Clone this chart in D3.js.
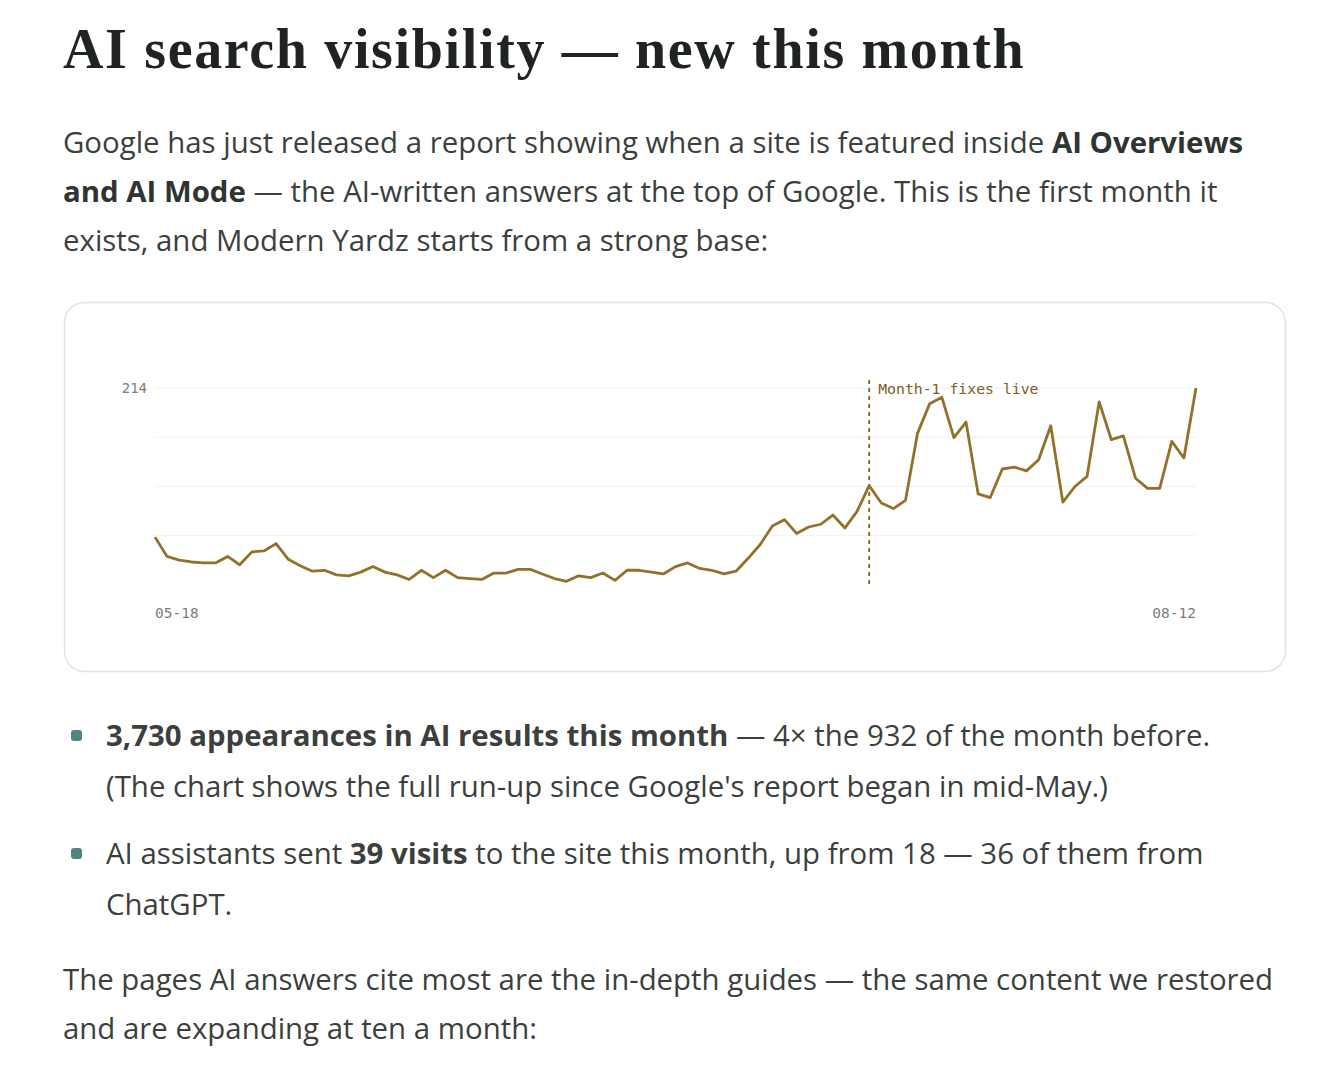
<!DOCTYPE html>
<html>
<head>
<meta charset="utf-8">
<script src="https://cdn.jsdelivr.net/npm/d3@7"></script>
<style>
  body { margin: 0; background: #fff; width: 1342px; height: 1090px; overflow: hidden; position: relative;
         font-family: "Open Sans", "Noto Sans", sans-serif; color: #3b3f3d; }
  h1 { position: absolute; left: 63px; top: 17px; margin: 0; font-family: "Liberation Serif", serif;
       font-weight: bold; font-size: 56px; color: #1f2421; letter-spacing: 1.65px; }
  .p { position: absolute; left: 63px; margin: 0; font-size: 29.4px; line-height: 49px; white-space: nowrap; }
  .p b { color: #2f3431; }
  ul { position: absolute; left: 63px; top: 710px; margin: 0; padding: 0; list-style: none; white-space: nowrap; }
  li { position: relative; padding-left: 43px; font-size: 29.4px; line-height: 51px; margin-bottom: 16px; }
  li::before { content: ""; position: absolute; left: 8px; top: 20px; width: 11px; height: 11px;
               border-radius: 3px; background: #4f8682; }
  svg { position: absolute; left: 0; top: 0; }
</style>
</head>
<body>
<h1>AI search visibility — new this month</h1>
<p class="p" style="top:118px">Google has just released a report showing when a site is featured inside <b>AI Overviews</b><br><b>and AI Mode</b> — the AI-written answers at the top of Google. This is the first month it<br>exists, and Modern Yardz starts from a strong base:</p>
<svg id="chart" width="1342" height="700"></svg>
<ul>
  <li><b>3,730 appearances in AI results this month</b> — 4× the 932 of the month before.<br>(The chart shows the full run-up since Google's report began in mid-May.)</li>
  <li>AI assistants sent <b>39 visits</b> to the site this month, up from 18 — 36 of them from<br>ChatGPT.</li>
</ul>
<p class="p" style="top:955px">The pages AI answers cite most are the in-depth guides — the same content we restored<br>and are expanding at ten a month:</p>
<script>
// daily AI appearances, 05-18 .. 08-12
const values = [
  52, 31, 27, 25, 24, 24, 31, 22, 36, 37, 45, 28, 21, 15, 16, 11, 10, 14, 20, 14,
  11, 6, 16, 8, 16, 8, 7, 6, 13, 13, 17, 17, 12, 7, 4, 10, 8, 13, 5, 16,
  16, 14, 12, 20,
  24, 18, 16, 12, 15, 29, 44, 64, 71, 56, 63, 66, 76, 62, 80, 108, 89, 83, 92, 165,
  197, 204, 160, 177, 99, 95, 126, 128, 124, 136, 173, 90, 107, 118, 199, 158, 162, 116, 105, 105,
  156, 138, 214
];
const xLabels = ["05-18", "08-12"];
const yMax = 214;
const markIndex = 59;
const markLabel = "Month-1 fixes live";

const svg = d3.select("#chart");
svg.append("rect")
  .attr("x", 64.5).attr("y", 302.5).attr("width", 1221).attr("height", 369)
  .attr("rx", 20).attr("fill", "#fff").attr("stroke", "#e3e3e3").attr("stroke-width", 1.5);

const x = d3.scaleLinear().domain([0, values.length - 1]).range([155, 1196]);
const y = d3.scaleLinear().domain([0, yMax]).range([585, 388]);

// gridlines at quarters
svg.append("g").selectAll("line")
  .data([yMax, yMax * 0.75, yMax * 0.5, yMax * 0.25])
  .join("line")
    .attr("x1", 155).attr("x2", 1196)
    .attr("y1", d => y(d)).attr("y2", d => y(d))
    .attr("stroke", "#f1f1f1").attr("stroke-width", 1.2);

const mono = "'DejaVu Sans Mono', 'Liberation Mono', monospace";
svg.append("text").attr("x", 147).attr("y", y(yMax) + 5).attr("text-anchor", "end")
  .attr("font-family", mono).attr("font-size", 14).attr("fill", "#7d7d7d").text(yMax);

svg.selectAll("text.xl")
  .data(xLabels)
  .join("text").attr("class", "xl")
    .attr("x", (d, i) => i === 0 ? x(0) : x(values.length - 1))
    .attr("y", 618)
    .attr("text-anchor", (d, i) => i === 0 ? "start" : "end")
    .attr("font-family", mono).attr("font-size", 14.5).attr("fill", "#7d7d7d")
    .text(d => d);

svg.append("line")
  .attr("x1", x(markIndex)).attr("x2", x(markIndex))
  .attr("y1", 380).attr("y2", 586)
  .attr("stroke", "#94702a").attr("stroke-width", 2).attr("stroke-dasharray", "4,4");
svg.append("text").attr("x", x(markIndex) + 9).attr("y", 394)
  .attr("font-family", mono).attr("font-size", 14.8).attr("fill", "#7e5e1e").text(markLabel);

svg.append("path")
  .datum(values)
  .attr("fill", "none").attr("stroke", "#92712a").attr("stroke-width", 2.8)
  .attr("stroke-linejoin", "round")
  .attr("d", d3.line().x((d, i) => x(i)).y(d => y(d)));
</script>
</body>
</html>
